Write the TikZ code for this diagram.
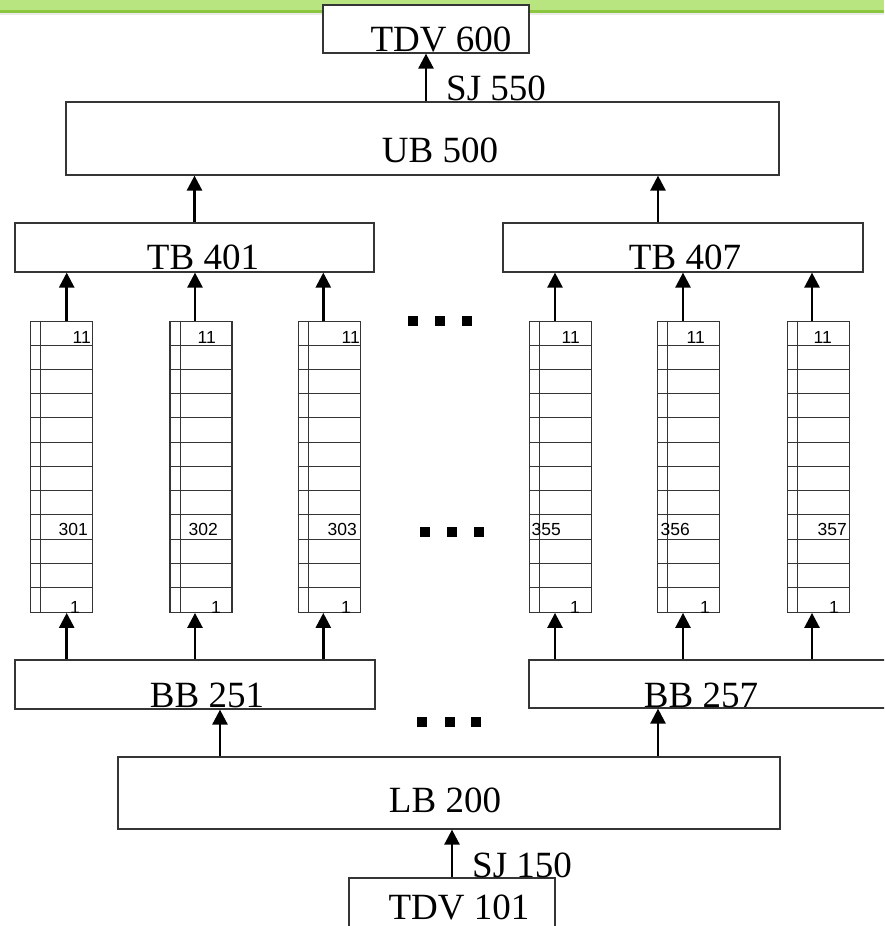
\documentclass[tikz,border=0pt]{standalone}
\usepackage{fontspec}
\setmainfont{Liberation Serif}
\newfontfamily\numfont{Liberation Sans}
\usetikzlibrary{calc,arrows.meta}
\definecolor{bandgreen}{HTML}{B8E57F}
\definecolor{banddark}{HTML}{8CC63F}
\definecolor{edge}{HTML}{353535}

\tikzset{
  blok/.style={draw=edge, line width=1.2pt, fill=white, inner sep=0pt, rectangle},
  lbl/.style={font=\fontsize{37}{37}\selectfont, inner sep=0pt, anchor=base},
  tag/.style={font=\numfont\fontsize{17.5}{17.5}\selectfont, inner sep=0pt, anchor=base east},
  arr/.style={line width=2.6pt, -{Triangle[width=15pt,length=15pt]}},
  row/.style={draw=edge, line width=0.9pt}
}

\begin{document}
\begin{tikzpicture}[x=1pt, y=-1pt]
  \clip (0,0) rectangle (884,926);
  \fill[white] (0,0) rectangle (884,926);

  % Banda verde in alto
  \fill[bandgreen] (0,0) rectangle (884,11);
  \fill[banddark] (0,9.5) rectangle (884,12.5);
  \fill[black!8] (0,12.5) rectangle (884,14.5);

  % Blocchi
  \node[blok, minimum width=206pt, minimum height=48pt] (tdv6) at (426,29) {};
  \node[blok, minimum width=713pt, minimum height=73pt] (ub) at (422.5,138.5) {};
  \node[blok, minimum width=359pt, minimum height=49pt] (tb1) at (194.5,247.5) {};
  \node[blok, minimum width=360pt, minimum height=49pt] (tb7) at (683,247.5) {};
  \node[blok, minimum width=360pt, minimum height=49pt] (bb1) at (195,684.5) {};
  \node[blok, minimum width=371pt, minimum height=48pt] (bb7) at (714.5,684) {};
  \node[blok, minimum width=662pt, minimum height=72pt] (lb) at (449,793) {};
  \node[blok, minimum width=206pt, minimum height=62pt] (tdv1) at (452,909) {};

  % Etichette blocchi
  \node[lbl] (tdv6t) at (441,51) {TDV 600};
  \node[lbl] (ubt) at (440,162) {UB 500};
  \node[lbl] (tb1t) at (203,269) {TB 401};
  \node[lbl] (tb7t) at (685,269) {TB 407};
  \node[lbl] (bb1t) at (207,707) {BB 251};
  \node[lbl] (bb7t) at (701,707) {BB 257};
  \node[lbl] (lbt) at (445,812) {LB 200};
  \node[lbl] (tdv1t) at (459,919) {TDV 101};

  % Frecce tra i blocchi
  \draw[arr] (tdv6.south |- ub.north) -- (tdv6.south);
  \node[lbl, anchor=base west] (sj5) at (446,100) {SJ 550};
  \draw[arr] (tb1.north) -- (tb1.north |- ub.south);
  \draw[arr] ([xshift=-25pt]tb7.north) -- ([xshift=-25pt]tb7.north |- ub.south);
  \draw[arr] ([xshift=-229pt]lb.north) -- ([xshift=-229pt]lb.north |- bb1.south);
  \draw[arr] ([xshift=209pt]lb.north) -- ([xshift=209pt]lb.north |- bb7.south);
  \draw[arr] (tdv1.north) -- (tdv1.north |- lb.south);
  \node[lbl, anchor=base west] (sj1) at (472,877) {SJ 150};

  % Pile di registri
  \foreach \sx/\ax/\num/\ta/\tb/\tc/\hi/\lo in {
      30/66.7/301/91/88/80/tb1/bb1,
      169.3/195/302/216/218/221/tb1/bb1,
      297.7/323.3/303/360/357/351/tb1/bb1,
      529/555/355/580/561/580/tb7/bb7,
      657/683/356/705/690/710/tb7/bb7,
      787/812/357/832/847/839/tb7/bb7} {
    \node[blok, minimum width=62pt, minimum height=291pt, anchor=north west]
      (s\num) at (\sx,320.7) {};
    \draw[row] (\sx+10.7,320.7) -- (\sx+10.7,611.7);
    \foreach \r in {1,...,11}
      \draw[row] (\sx,320.7+\r*24.25) -- (\sx+62,320.7+\r*24.25);
    \node[tag] at (\ta,343) {11};
    \node[tag] at (\tb,535) {\num};
    \node[tag] at (\tc,613) {1};
    \coordinate (a\num) at (\ax,0);
    \draw[arr] (a\num |- s\num.north) -- (a\num |- \hi.south);
    \draw[arr] (a\num |- \lo.north) -- (a\num |- s\num.south);
  }

  % Puntini
  \foreach \dx/\dy in {408/316, 435/316, 462/316,
                       420/527, 447/527, 474/527,
                       417/717, 445/717, 471/717}
    \fill (\dx,\dy) rectangle +(10,10);
\end{tikzpicture}
\end{document}
